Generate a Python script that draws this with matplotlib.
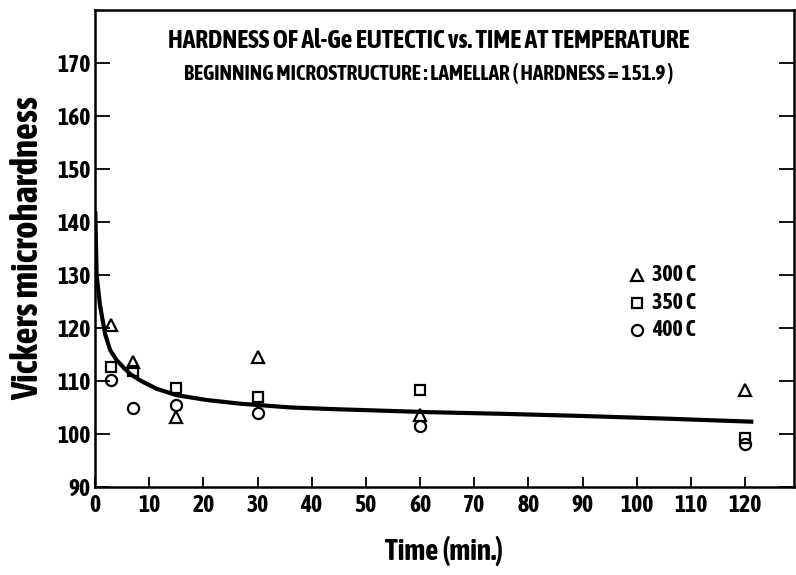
import matplotlib
matplotlib.use("Agg")
import matplotlib.pyplot as plt
from matplotlib import font_manager

# pick a condensed/narrow family if one is installed, preferring one with a bold face
def _wnum(w):
    if isinstance(w, (int, float)):
        return w
    return {'bold': 700, 'heavy': 800, 'black': 900, 'semibold': 600, 'demibold': 600,
            'extra bold': 800, 'ultrabold': 800}.get(str(w).lower(), 400)

cands = [f for f in font_manager.fontManager.ttflist
         if ('Condensed' in f.name or 'Narrow' in f.name) and 'Mono' not in f.name]
bold = [f for f in cands if _wnum(f.weight) >= 600]
if bold:
    bold.sort(key=lambda f: abs(_wnum(f.weight) - 700))
    FAM = bold[0].name
elif cands:
    FAM = cands[0].name
else:
    FAM = 'DejaVu Sans'
plt.rcParams['font.family'] = [FAM, 'DejaVu Sans']
STRETCH = 'condensed'

# data
t_300 = [3, 7, 15, 30, 60, 120]
h_300 = [120.6, 113.6, 103.2, 114.5, 103.5, 108.2]
t_350 = [3, 7, 15, 30, 60, 120]
h_350 = [112.7, 111.8, 108.7, 106.9, 108.2, 99.2]
t_400 = [3, 7, 15, 30, 60, 120]
h_400 = [110.1, 104.9, 105.5, 104.0, 101.5, 98.1]

# fitted curve
curve_t = [0.05, 0.3, 0.9, 1.85, 2.8, 4.0, 5.2, 6.5, 8.3, 11.4, 15.1, 20.6, 26.8, 36, 43.4, 52.6, 61.8, 75, 89.5, 105, 121.5]
curve_h = [142, 130, 124.4, 118.9, 115.8, 113.9, 112.6, 111.3, 110.1, 108.5, 107.3, 106.4, 105.7, 105.0, 104.7, 104.4, 104.1, 103.8, 103.4, 102.9, 102.3]

xticks = list(range(0, 121, 10))
yticks = list(range(90, 171, 10))
legend_labels = ['300 C', '350 C', '400 C']

fig = plt.figure(figsize=(7.96, 5.75), dpi=100)
ax = fig.add_axes([95/796, 88/575, 699/796, 477.5/575])

ax.plot(curve_t, curve_h, color='black', lw=3.0, solid_capstyle='butt')
mk = dict(linestyle='none', mfc='none', mec='black', mew=1.6)
ax.plot(t_300, h_300, marker='^', ms=8, **mk)
ax.plot(t_350, h_350, marker='s', ms=7, **mk)
ax.plot(t_400, h_400, marker='o', ms=8, **mk)

ax.set_xlim(0, 129)
ax.set_ylim(90, 180)
ax.set_xticks(xticks)
ax.set_yticks(yticks)
ax.set_xticklabels([str(v) for v in xticks])
ax.set_yticklabels([str(v) for v in yticks])
ax.tick_params(axis='y', direction='in', length=11, width=1.3, left=True, right=True,
               pad=3, labelsize=17)
ax.tick_params(axis='x', direction='in', length=7, width=1.3, pad=5, labelsize=17)
for s in ax.spines.values():
    s.set_linewidth(1.8)

renderer = fig.canvas.get_renderer()

def fit_width(txt, target_px, start=15):
    txt.set_fontsize(start)
    w = txt.get_window_extent(renderer).width
    if w > 0:
        txt.set_fontsize(start * target_px / w)

def style(txt):
    txt.set_fontweight('bold')
    txt.set_fontstretch(STRETCH)

for lab in ax.get_xticklabels() + ax.get_yticklabels():
    style(lab)

xl = ax.set_xlabel('Time (min.)', labelpad=14)
yl = ax.set_ylabel('Vickers microhardness', labelpad=8)
style(xl); style(yl)
fit_width(xl, 118, 18)
yl.set_fontsize(18)
h = yl.get_window_extent(renderer).height
yl.set_fontsize(min(28, 18 * 305 / h))

t1 = ax.text(0.477, 0.935, 'HARDNESS OF Al-Ge EUTECTIC vs. TIME AT TEMPERATURE',
             transform=ax.transAxes, ha='center', va='center')
t2 = ax.text(0.478, 0.866, 'BEGINNING MICROSTRUCTURE : LAMELLAR ( HARDNESS = 151.9 )',
             transform=ax.transAxes, ha='center', va='center')
style(t1); style(t2)
fit_width(t1, 522, 15)
fit_width(t2, 493, 12)

# legend
leg_rows = [(275, '^', 8), (303, 's', 7), (330, 'o', 8)]
for (py, m, s), lab in zip(leg_rows, legend_labels):
    fy = 1 - py / 575
    fig.add_artist(plt.Line2D([637/796], [fy], marker=m, ms=s, mfc='none', mec='black',
                              mew=1.6, linestyle='none', transform=fig.transFigure))
    lt = fig.text(652/796, fy, lab, ha='left', va='center')
    style(lt)
    fit_width(lt, 44, 14)

fig.savefig('out.png', dpi=100)
